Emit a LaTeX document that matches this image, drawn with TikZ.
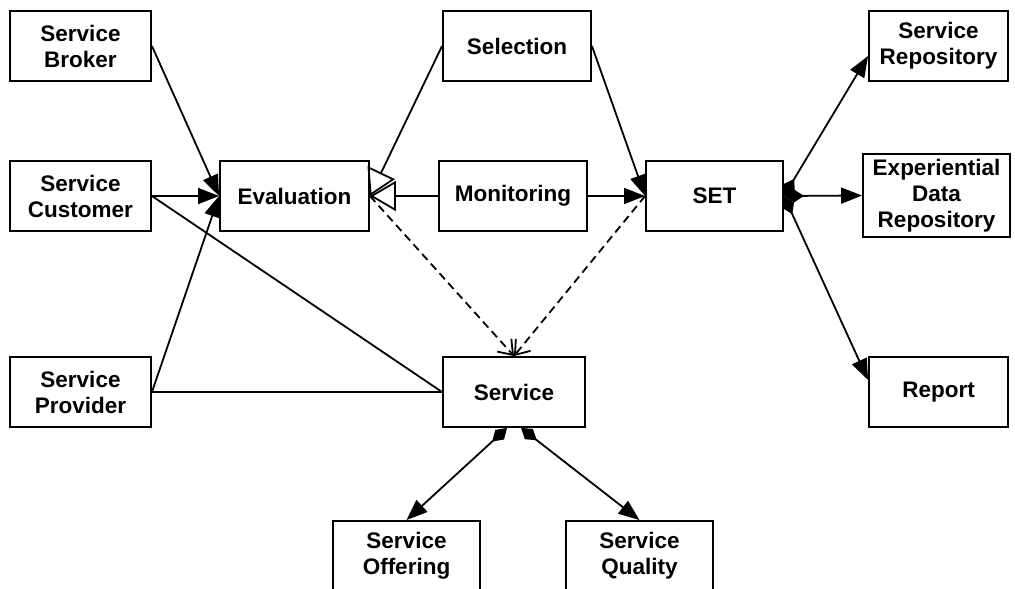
\documentclass[tikz,border=0pt]{standalone}
\usepackage{fontspec}
\setmainfont{Liberation Sans}
\usetikzlibrary{arrows.meta}
\begin{document}
\begin{tikzpicture}[x=1pt,y=-1pt,
  box/.style={draw, line width=1.9pt, inner sep=0pt, minimum height=70pt,
    align=center, font=\fontsize{22.5}{26}\selectfont\bfseries},
  conn/.style={line width=1.8pt},
  tipf/.style={conn, -{Triangle[length=21pt,width=16pt]}},
  gen/.style={conn, -{Triangle[open,length=26pt,width=30pt]}},
  dep/.style={conn, dash pattern=on 8pt off 5pt, -{Straight Barb[length=13pt,width=19pt]}},
  comp/.style={conn, {Diamond[length=20pt,width=13pt]}-{Triangle[length=21pt,width=16pt]}}]
\useasboundingbox (0,0) rectangle (1015,589);
\clip (0,0) rectangle (1015,589);

% actors on the left
\node[box, minimum width=141pt] (broker)   at (80.5,46)  {Service\\Broker};
\node[box, minimum width=141pt] (customer) at (80.5,196) {Service\\Customer};
\node[box, minimum width=141pt] (provider) at (80.5,392) {Service\\Provider};

% central processes
\node[box, minimum width=149pt] (eval) at (294.5,196) {Evaluation};
\node[box, minimum width=148pt] (sel)  at (517,46)    {Selection};
\node[box, minimum width=148pt] (mon)  at (513,196)   {Monitoring};
\node[box, minimum width=137pt] (set)  at (714.5,196) {SET};
\node[box, minimum width=142pt] (serv) at (514,392)   {Service};

% outputs on the right
\node[box, minimum width=139pt] (srepo)  at (938.5,46)  {Service\\Repository};
\node[box, minimum width=147pt, minimum height=83pt] (exp) at (936.5,195.5)
  {\fontsize{22.5}{25}\selectfont Experiential\\Data\\Repository};
\node[box, minimum width=139pt] (report) at (938.5,392) {Report};

% parts of the service
\node[box, minimum width=147pt] (offer) at (406.5,556) {Service\\Offering};
\node[box, minimum width=147pt] (qual)  at (639.5,556) {Service\\Quality};

% inputs to evaluation
\draw[tipf] (broker.east)   -- (eval.west);
\draw[tipf] (customer.east) -- (eval.west);
\draw[tipf] (provider.east) -- (eval.west);
\draw[conn] (customer.east) -- (serv.west);
\draw[conn] (provider.east) -- (serv.west);

% generalisations into evaluation
\draw[gen] (sel.west) -- (eval.east);
\draw[gen] (mon.west) -- (eval.east);

% flows into SET
\draw[tipf] (sel.east) -- (set.west);
\draw[tipf] (mon.east) -- (set.west);

% dependencies on the service
\draw[dep] (eval.east) -- (serv.north);
\draw[dep] (set.west)  -- (serv.north);

% SET compositions
\draw[comp] (set.east) -- ([yshift=-10pt]srepo.west);
\draw[comp] (set.east) -- (exp.west);
\draw[comp] (set.east) -- ([yshift=12pt]report.west);

% service compositions
\draw[comp] ([xshift=-7pt]serv.south) -- (offer.north);
\draw[comp] ([xshift=7pt]serv.south)  -- (qual.north);
\end{tikzpicture}
\end{document}
